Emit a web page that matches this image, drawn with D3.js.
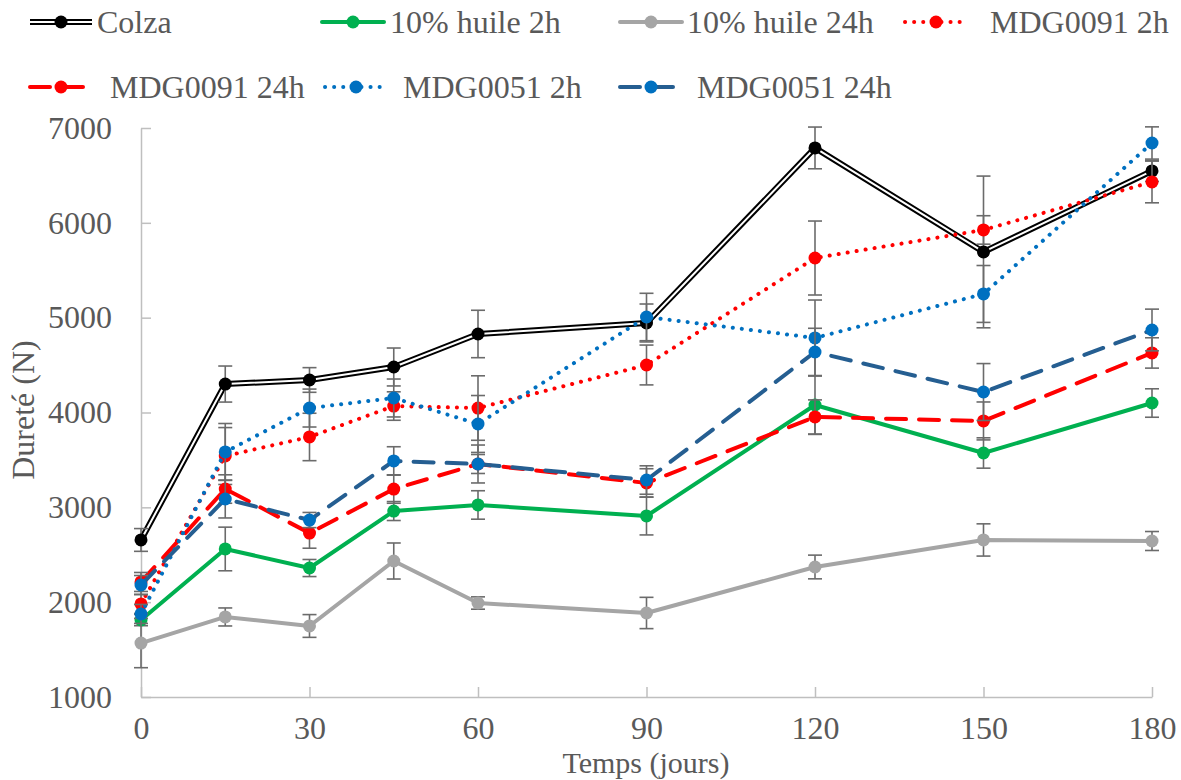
<!DOCTYPE html>
<html><head><meta charset="utf-8">
<script src="https://cdn.jsdelivr.net/npm/d3@7"></script>
<style>body{margin:0;background:#fff} svg text{font-family:"Liberation Serif","Times New Roman",serif;}</style>
</head><body><svg id="c" width="1181" height="780"></svg>
<script>
// ---- data ----
const days = [0, 15, 30, 45, 60, 90, 120, 150, 180];
const xTicks = [0, 30, 60, 90, 120, 150, 180];
const yTicks = [1000, 2000, 3000, 4000, 5000, 6000, 7000];
const seriesNames = ["Colza", "10% huile 2h", "10% huile 24h", "MDG0091 2h", "MDG0091 24h", "MDG0051 2h", "MDG0051 24h"];
const colza      = [2656, 4300, 4343, 4480, 4828, 4944, 6790, 5693, 6547];
const colzaErr   = [120, 190, 130, 200, 250, 200, 220, 800, 110];
const huile2h    = [1812, 2561, 2360, 2961, 3025, 2909, 4079, 3573, 4100];
const huile2hErr = [60, 230, 90, 100, 150, 200, 310, 160, 150];
const huile24h   = [1569, 1844, 1749, 2434, 1991, 1886, 2371, 2656, 2645];
const huile24hErr= [260, 95, 120, 190, 65, 165, 125, 170, 100];
const mdg91_2h   = [1981, 3541, 3742, 4068, 4047, 4501, 5629, 5925, 6431];
const mdg91_2hErr= [100, 300, 250, 150, 340, 210, 390, 150, 220];
const mdg91_24h  = [2213, 3193, 2729, 3193, 3457, 3257, 3953, 3911, 4628];
const mdg91_24hErr=[100, 150, 160, 150, 200, 150, 180, 200, 160];
const mdg51_2h   = [1876, 3584, 4047, 4153, 3879, 5007, 4786, 5250, 6842];
const mdg51_2hErr= [100, 300, 200, 200, 300, 250, 400, 300, 170];
const mdg51_24h  = [2181, 3088, 2866, 3489, 3457, 3288, 4638, 4216, 4870];
const mdg51_24hErr=[100, 200, 80, 150, 100, 150, 250, 300, 220];

const values = [colza, huile2h, huile24h, mdg91_2h, mdg91_24h, mdg51_2h, mdg51_24h];
const errors = [colzaErr, huile2hErr, huile24hErr, mdg91_2hErr, mdg91_24hErr, mdg51_2hErr, mdg51_24hErr];

// ---- styles ----
const styles = [
  {line:"#000000", marker:"#000000", dash:null, double:true},
  {line:"#00B050", marker:"#00B050", dash:null},
  {line:"#A5A5A5", marker:"#A5A5A5", dash:null},
  {line:"#FF0000", marker:"#FF0000", dash:"0.1 9"},
  {line:"#FF0000", marker:"#FF0000", dash:"20 13"},
  {line:"#0070C0", marker:"#0070C0", dash:"0.1 9"},
  {line:"#255E91", marker:"#0070C0", dash:"20 13"}
];

const svg = d3.select("#c").attr("font-family", "Liberation Serif, Times New Roman, serif");
const font = "'Liberation Serif', 'Times New Roman', serif";
const textColor = "#595959";
const axisColor = "#BFBFBF";
const fs = "32px";

const x = d3.scaleLinear().domain([0, 180]).range([141, 1152]);
const y = d3.scaleLinear().domain([1000, 7000]).range([697, 128]);

// axes
const yAxis = d3.axisLeft(y).tickValues(yTicks).tickFormat(d3.format("d"))
  .tickSizeInner(-10).tickSizeOuter(0).tickPadding(29);
const gy = svg.append("g").attr("transform", `translate(${x(0)},0)`).call(yAxis);
const xAxis = d3.axisBottom(x).tickValues(xTicks).tickFormat(d3.format("d"))
  .tickSizeInner(-10).tickSizeOuter(0).tickPadding(19);
const gx = svg.append("g").attr("transform", `translate(0,${y(1000)})`).call(xAxis);
[gx, gy].forEach(g => {
  g.attr("font-family", null).attr("font-size", null);
  g.select(".domain").attr("stroke", axisColor).attr("stroke-width", 1.5);
  g.selectAll(".tick line").attr("stroke", axisColor).attr("stroke-width", 1.5);
  g.selectAll(".tick text").attr("fill", textColor).style("font-family", font).style("font-size", fs);
});

svg.append("text").attr("x", 646).attr("y", 773).attr("text-anchor", "middle")
  .attr("fill", textColor).style("font-family", font).style("font-size", "30px").text("Temps (jours)");
svg.append("text").attr("transform", "translate(34,410) rotate(-90)").attr("text-anchor", "middle")
  .attr("fill", textColor).style("font-family", font).style("font-size", fs).text("Dureté (N)");

const line = d3.line().x((d, i) => x(days[i])).y(d => y(d));

function drawLine(g, pathD, st) {
  if (st.double) {
    g.append("path").attr("d", pathD).attr("fill", "none").attr("stroke", st.line).attr("stroke-width", 6).attr("stroke-linejoin", "round");
    g.append("path").attr("d", pathD).attr("fill", "none").attr("stroke", "#fff").attr("stroke-width", 2).attr("stroke-linejoin", "round");
  } else {
    const p = g.append("path").attr("d", pathD).attr("fill", "none").attr("stroke", st.line)
      .attr("stroke-width", 4).attr("stroke-linejoin", "round").attr("stroke-linecap", "round");
    if (st.dash) p.attr("stroke-dasharray", st.dash);
  }
}

values.forEach((vals, s) => {
  const st = styles[s];
  const g = svg.append("g");
  drawLine(g, line(vals), st);
  const eb = g.append("g").attr("stroke", "#6B6B6B").attr("stroke-width", 1.6);
  vals.forEach((v, i) => {
    const e = errors[s][i];
    const cx = x(days[i]);
    eb.append("line").attr("x1", cx).attr("x2", cx).attr("y1", y(v - e)).attr("y2", y(v + e));
    eb.append("line").attr("x1", cx - 7).attr("x2", cx + 7).attr("y1", y(v - e)).attr("y2", y(v - e));
    eb.append("line").attr("x1", cx - 7).attr("x2", cx + 7).attr("y1", y(v + e)).attr("y2", y(v + e));
  });
  g.selectAll("circle").data(vals).enter().append("circle")
    .attr("cx", (d, i) => x(days[i])).attr("cy", d => y(d)).attr("r", 6.5).attr("fill", st.marker);
});

// legend
const legendPos = [
  {sx: 30, tx: 97, y: 22}, {sx: 322, tx: 390, y: 22}, {sx: 620, tx: 687, y: 22}, {sx: 905, tx: 990, y: 22},
  {sx: 30, tx: 110, y: 87}, {sx: 325, tx: 403, y: 87}, {sx: 620, tx: 697, y: 87}
];
seriesNames.forEach((name, s) => {
  const p = legendPos[s], st = styles[s];
  const g = svg.append("g");
  drawLine(g, `M${p.sx},${p.y}L${p.sx + 62},${p.y}`, st);
  g.append("circle").attr("cx", p.sx + 31).attr("cy", p.y).attr("r", 6.5).attr("fill", st.marker);
  g.append("text").attr("x", p.tx).attr("y", p.y + 11).attr("fill", textColor)
    .style("font-family", font).style("font-size", fs).text(name);
});
</script></body></html>
